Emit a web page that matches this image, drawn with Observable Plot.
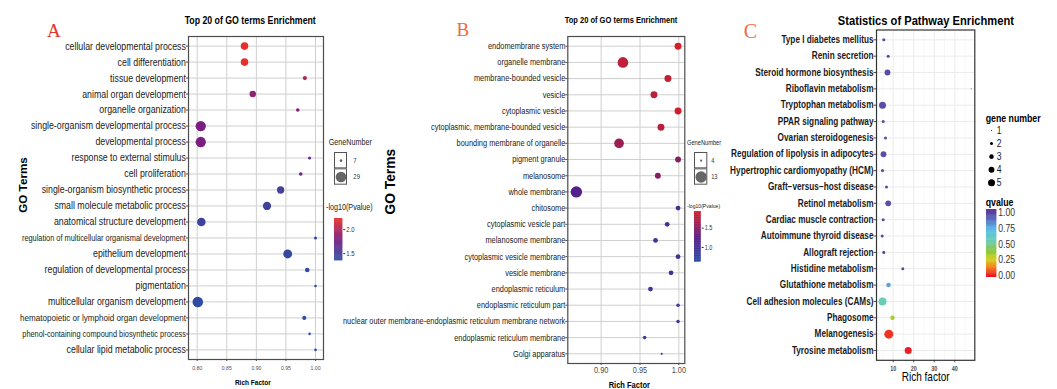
<!DOCTYPE html>
<html><head><meta charset="utf-8">
<script src="https://cdn.jsdelivr.net/npm/d3@7"></script>
<script src="https://cdn.jsdelivr.net/npm/@observablehq/plot@0.6"></script>
<style>
html,body{margin:0;padding:0;background:#fff;}
#root{position:relative;width:1057px;height:389px;overflow:hidden;background:#fff;}
#root svg{position:absolute;max-width:none;}
</style></head><body><div id="root"></div>
<script>
// ---------- Panel A data ----------
const termsA = ["cellular developmental process","cell differentiation","tissue development","animal organ development","organelle organization","single-organism developmental process","developmental process","response to external stimulus","cell proliferation","single-organism biosynthetic process","small molecule metabolic process","anatomical structure development","regulation of multicellular organismal development","epithelium development","regulation of developmental process","pigmentation","multicellular organism development","hematopoietic or lymphoid organ development","phenol-containing compound biosynthetic process","cellular lipid metabolic process"];
const richA = [0.880,0.880,0.982,0.894,0.970,0.806,0.806,0.990,0.975,0.941,0.918,0.807,1.000,0.953,0.986,1.000,0.801,0.981,0.990,1.000];
const geneA = [19,19,10,16,9,28,28,8,9,18,21,22,8,23,11,7,29,10,7,7];
const logpA = [2.23,2.22,1.98,1.86,1.84,1.79,1.79,1.70,1.68,1.47,1.46,1.45,1.41,1.41,1.40,1.39,1.38,1.37,1.36,1.35];
const ticksA = [0.80,0.85,0.90,0.95,1.00];
const sizeKeysA = [7,29];
const colorTicksA = [1.5,2.0];

// ---------- Panel B data ----------
const termsB = ["endomembrane system","organelle membrane","membrane-bounded vesicle","vesicle","cytoplasmic vesicle","cytoplasmic, membrane-bounded vesicle","bounding membrane of organelle","pigment granule","melanosome","whole membrane","chitosome","cytoplasmic vesicle part","melanosome membrane","cytoplasmic vesicle membrane","vesicle membrane","endoplasmic reticulum","endoplasmic reticulum part","nuclear outer membrane-endoplasmic reticulum membrane network","endoplasmic reticulum membrane","Golgi apparatus"];
const richB = [0.999,0.928,0.986,0.968,0.999,0.977,0.923,0.999,0.973,0.868,0.999,0.985,0.970,0.999,0.990,0.9635,0.999,0.999,0.956,0.978];
const geneB = [8,12,8,8,8,8,11,7,7,13,6,6,6,6,6,6,5,5,5,4];
const logpB = [1.93,1.82,1.84,1.80,1.88,1.80,1.62,1.50,1.50,1.20,1.05,1.02,1.00,1.00,0.98,0.95,0.90,0.90,0.80,0.68];
const ticksB = [0.90,0.95,1.00];
const sizeKeysB = [4,13];
const colorTicksB = [1.0,1.5];

// ---------- Panel C data ----------
const termsC = ["Type I diabetes mellitus","Renin secretion","Steroid hormone biosynthesis","Riboflavin metabolism","Tryptophan metabolism","PPAR signaling pathway","Ovarian steroidogenesis","Regulation of lipolysis in adipocytes","Hypertrophic cardiomyopathy (HCM)","Graft\u2212versus\u2212host disease","Retinol metabolism","Cardiac muscle contraction","Autoimmune thyroid disease","Allograft rejection","Histidine metabolism","Glutathione metabolism","Cell adhesion molecules (CAMs)","Phagosome","Melanogenesis","Tyrosine metabolism"];
const richC = [5.42,7.56,7.22,47.99,4.79,5.13,6.25,5.28,4.79,6.74,7.56,5.13,4.64,5.42,14.68,7.71,4.79,9.66,7.86,17.3];
const geneC = [2,2,4,1,5,2,2,4,2,2,4,2,2,2,2,3,6,3,7,5];
const qC = [0.98,0.98,0.97,1.0,0.96,0.98,0.98,0.96,0.98,0.98,0.96,0.98,0.98,0.98,0.98,0.78,0.55,0.33,0.03,0.0];
const ticksC = [10,20,30,40];
const minorTicksC = [5,15,25,35,45];
const sizeKeysC = [1,2,3,4,5];
const colorTicksC = [0,0.25,0.5,0.75,1.0];

// ---------- fonts ----------
function hasFont(f){const c=document.createElement("canvas").getContext("2d");const s="mmmmmmmmmmlliiWWWabcxyz";c.font="40px monospace";const a=c.measureText(s).width;c.font=`40px "${f}", monospace`;const b=c.measureText(s).width;return a!==b;}
const NARROW = hasFont("Liberation Sans Narrow");
const FN = NARROW ? '"Liberation Sans Narrow","Liberation Sans",Arial,sans-serif' : '"Liberation Sans",Arial,sans-serif';
const FW = '"Liberation Sans",Arial,sans-serif';
const K = NARROW ? 1/0.82 : 1;
const fs = v => +(v*K).toFixed(2);

const root = document.getElementById("root");
function place(svg, left, top){svg.style.left=left+"px";svg.style.top=top+"px";root.appendChild(svg);return svg;}

// ---------- scales ----------
const colorA = {type:"linear", domain:[1.35,1.79,2.23], range:["#2c4ea6","#7a1f80","#e8302a"], interpolate:"rgb"};
const colorB = {type:"linear", domain:[0.62,1.22,1.93], range:["#2c4ea6","#561d8a","#d21f28"], interpolate:"rgb"};
const colorC = {type:"linear", domain:[0,0.12,0.25,0.38,0.55,0.72,0.87,1.0], range:["#ee1d23","#f3791f","#d6d21f","#8dc63f","#6ccdb4","#5bbfea","#5875c4","#5b3d9c"], interpolate:"rgb"};
const rA = {type:"sqrt", domain:[7,29], range:[1.3,5.3]};
const rB = {type:"sqrt", domain:[4,13], range:[1.1,5.7]};
const rC = {type:"sqrt", domain:[1,5], range:[0.5,3.5]};

const styleA = {"regulation of multicellular organismal development":7.38,"phenol-containing compound biosynthetic process":7.38,"hematopoietic or lymphoid organ development":8.11};

const dataA = termsA.map((t,i)=>({term:t, rich:richA[i], gene:geneA[i], p:logpA[i]}));
const dataB = termsB.map((t,i)=>({term:t, rich:richB[i], gene:geneB[i], p:logpB[i]}));
const dataC = termsC.map((t,i)=>({term:t, rich:richC[i], gene:geneC[i], q:qC[i]}));

// ---------- Panel A ----------
place(Plot.plot({
  width:330, height:389, marginLeft:188, marginRight:7, marginTop:36, marginBottom:30,
  style:{background:"transparent", fontFamily:FN, fontSize:fs(5.1)+"px", color:"#4d4d4d", overflow:"visible"},
  x:{domain:[0.7853,1.0135], ticks:ticksA, tickFormat:".2f", tickSize:2, tickPadding:4, label:null},
  y:{type:"point", domain:termsA, padding:0.6, round:false, tickSize:2, tickFormat:()=>"", label:null},
  r:rA, color:colorA,
  marks:[
    Plot.ruleX(ticksA,{x:d=>d, stroke:"#cfcfcf", strokeWidth:1}),
    Plot.ruleY(termsA,{y:d=>d, stroke:"#cfcfcf", strokeWidth:1}),
    Plot.frame({stroke:"#4d4d4d", strokeWidth:1.2}),
    Plot.dot(dataA,{x:"rich", y:"term", r:"gene", fill:"p"}),
    Plot.text(dataA,{y:"term", text:"term", frameAnchor:"left", dx:-2.6, textAnchor:"end", fill:"#1a1a1a", fontFamily:FN, fontSize:d=>fs(styleA[d.term]||8.8)})
  ]
}), 0, 0);

// ---------- Panel B ----------
place(Plot.plot({
  width:360, height:389, marginLeft:237.3, marginRight:5.7, marginTop:36, marginBottom:26,
  style:{background:"transparent", fontFamily:FN, fontSize:fs(7.4)+"px", color:"#4d4d4d", overflow:"visible"},
  x:{domain:[0.857,1.0077], ticks:ticksB, tickFormat:".2f", tickSize:2, tickPadding:1, label:null},
  y:{type:"point", domain:termsB, padding:0.6, round:false, tickSize:2, tickFormat:()=>"", label:null},
  r:rB, color:colorB,
  marks:[
    Plot.ruleX(ticksB,{x:d=>d, stroke:"#cfcfcf", strokeWidth:1}),
    Plot.ruleY(termsB,{y:d=>d, stroke:"#cfcfcf", strokeWidth:1}),
    Plot.frame({stroke:"#4d4d4d", strokeWidth:1.2}),
    Plot.dot(dataB,{x:"rich", y:"term", r:"gene", fill:"p"}),
    Plot.text(dataB,{y:"term", text:"term", frameAnchor:"left", dx:-2.5, textAnchor:"end", fill:"#1a1a1a", fontFamily:FN, fontSize:fs(7.42)})
  ]
}), 330, 0);

// ---------- Panel C ----------
place(Plot.plot({
  width:280, height:389, marginLeft:176, marginRight:5.7, marginTop:29.5, marginBottom:29.2,
  style:{background:"transparent", fontFamily:FN, fontSize:fs(5.5)+"px", fontWeight:"bold", color:"#4d4d4d", overflow:"visible"},
  x:{domain:[1.867,49.74], ticks:ticksC, tickSize:2.5, tickPadding:3, label:null},
  y:{type:"point", domain:termsC, padding:0.6, round:false, tickSize:2.5, tickFormat:()=>"", label:null},
  r:rC, color:colorC,
  marks:[
    Plot.ruleX(minorTicksC,{x:d=>d, stroke:"#f2f2f2", strokeWidth:0.6}),
    Plot.ruleX(ticksC,{x:d=>d, stroke:"#ebebeb", strokeWidth:1}),
    Plot.ruleY(termsC,{y:d=>d, stroke:"#ebebeb", strokeWidth:1}),
    Plot.frame({stroke:"#333", strokeWidth:1.2}),
    Plot.dot(dataC,{x:"rich", y:"term", r:"gene", fill:"q"}),
    Plot.text(dataC,{y:"term", text:"term", frameAnchor:"left", dx:-3, textAnchor:"end", fill:"#1a1a1a", fontFamily:FN, fontWeight:"bold", fontSize:fs(8.23)})
  ]
}), 700, 0);

// ---------- legends ----------
function sizeBoxLegend(keys, rScale, left, top, w, h, labelDx, labelSize){
  return place(Plot.plot({
    width:w+30, height:h, marginLeft:0, marginRight:30, marginTop:0, marginBottom:0,
    style:{background:"transparent", fontFamily:FN, fontSize:"8px", color:"#333", overflow:"visible"},
    x:{type:"band", domain:["k"], range:[0,w], padding:0, round:false, axis:null},
    y:{type:"band", domain:keys, range:[0,h], padding:0, round:false, axis:null},
    r:rScale,
    marks:[
      Plot.cell(keys,{x:()=>"k", y:d=>d, fill:"white", stroke:"#555", strokeWidth:1, inset:0.5}),
      Plot.dot(keys,{x:()=>"k", y:d=>d, r:d=>d, fill:"#666"}),
      Plot.text(keys,{x:()=>"k", y:d=>d, text:d=>String(d), dx:labelDx, textAnchor:"start", fill:"#333", fontSize:fs(labelSize)})
    ]
  }), left, top);
}
function colorbar(colorScale, lo, hi, ticks, fmt, left, top, w, h, tickSize, fontSize, weight){
  const n = 80, step = (hi-lo)/n;
  const slices = d3.range(n).map(i=>({a:lo+step*i, b:lo+step*(i+1)}));
  return place(Plot.plot({
    width:w+30, height:h, marginLeft:0, marginRight:30, marginTop:0, marginBottom:0,
    style:{background:"transparent", fontFamily:FN, fontSize:fs(fontSize)+"px", fontWeight:weight||"normal", color:"#333", overflow:"visible"},
    x:{domain:[0,1], axis:null},
    y:{domain:[lo,hi], axis:"right", ticks, tickFormat:fmt, tickSize, tickPadding:1.5, label:null},
    color:colorScale,
    marks:[Plot.rect(slices,{x1:0, x2:1, y1:"a", y2:d=>Math.min(hi,d.b+step*0.6), fill:d=>(d.a+d.b)/2})]
  }), left, top);
}
sizeBoxLegend(sizeKeysA, rA, 333.7, 152.3, 13, 32.7, 12.3, 6);
colorbar(colorA, 1.35, 2.23, colorTicksA, ".1f", 334, 218.3, 8.3, 42.4, 2, 6);
sizeBoxLegend(sizeKeysB, rB, 694, 152.3, 13.3, 32.7, 10, 5.7);
colorbar(colorB, 0.62, 1.93, colorTicksB, ".1f", 694.3, 211, 6.7, 50.7, 2, 5.5);
// C size legend
place(Plot.plot({
  width:40, height:75, marginLeft:0, marginRight:30, marginTop:0, marginBottom:0,
  style:{background:"transparent", fontFamily:FN, fontSize:"8px", color:"#1a1a1a", overflow:"visible"},
  x:{type:"band", domain:["k"], range:[0,10], padding:0, round:false, axis:null},
  y:{type:"point", domain:sizeKeysC, range:[10,62.3], padding:0, round:false, axis:null},
  r:rC,
  marks:[
    Plot.dot(sizeKeysC,{x:()=>"k", y:d=>d, r:d=>d, fill:"#000"}),
    Plot.text(sizeKeysC,{x:()=>"k", y:d=>d, text:d=>String(d), dx:5.3, textAnchor:"start", fill:"#1a1a1a", fontSize:fs(8.6)})
  ]
}), 985.7, 120);
colorbar(colorC, -0.025, 1.047, colorTicksC, ".2f", 985.7, 209.3, 10.3, 68, 0, 8.6);

// ---------- overlay text ----------
const ov = d3.select(root).append("svg").attr("width",1057).attr("height",389).style("left","0px").style("top","0px");
function txt(s,x,y,o={}){
  const t = ov.append("text").attr("x",x).attr("y",y).attr("dominant-baseline","central")
    .attr("text-anchor",o.anchor||"middle").attr("font-family",o.family||FN)
    .attr("font-size",o.size).attr("font-weight",o.weight||"normal").attr("fill",o.fill||"#000").text(s);
  if(o.rotate) t.attr("transform",`rotate(${o.rotate},${x},${y})`);
  if(o.keep) t.attr("data-keep","1");
}
const SERIF = '"Liberation Serif","DejaVu Serif",serif';
// A
txt("A",53.8,30,{family:SERIF,size:19,fill:"#e5342a",keep:1});
txt("Top 20 of GO terms Enrichment",250.2,19.7,{size:fs(8.75),weight:"bold"});
txt("GO Terms",22,185,{family:FW,size:11.7,weight:"bold",rotate:-90,keep:1});
txt("Rich Factor",252.8,382.3,{size:fs(6.5),weight:"bold"});
txt("GeneNumber",328.7,141.7,{anchor:"start",size:fs(7.2),fill:"#222"});
txt("-log10(Pvalue)",326,206.7,{anchor:"start",size:fs(7.2),fill:"#222"});
// B
txt("B",462.8,29,{family:SERIF,size:19,fill:"#ef6b45",keep:1});
txt("Top 20 of GO terms Enrichment",621,19.7,{size:fs(7.53),weight:"bold"});
txt("GO Terms",391,181.7,{family:FW,size:13.8,weight:"bold",rotate:-90,keep:1});
txt("Rich Factor",629.3,385,{size:fs(7.5),weight:"bold"});
txt("GeneNumber",687,142.3,{anchor:"start",size:fs(5.7),fill:"#222"});
txt("-log10(Pvalue)",687,205,{anchor:"start",size:fs(5.1),fill:"#222"});
// C
txt("C",750.3,30.7,{family:SERIF,size:20,fill:"#ef6b45",keep:1});
txt("Statistics of Pathway Enrichment",925.9,20,{size:fs(11.17),weight:"bold"});
txt("Rich factor",925.7,377.3,{size:fs(10)});
txt("gene number",985.7,117.7,{anchor:"start",size:fs(8.76),weight:"bold"});
txt("qvalue",985.7,201.7,{anchor:"start",size:fs(8.76),weight:"bold"});

// ---------- condensed look: keep each text's width, make glyphs taller (narrow face) ----------
if (!NARROW) {
  root.querySelectorAll("svg text").forEach(el => {
    if (el.getAttribute("data-keep")) return;
    if (el.querySelector("tspan")) return;
    const w = el.getComputedTextLength();
    if (!w) return;
    const s = parseFloat(getComputedStyle(el).fontSize);
    el.style.fontSize = (s/0.82).toFixed(2) + "px";
    el.setAttribute("textLength", w.toFixed(2));
    el.setAttribute("lengthAdjust", "spacingAndGlyphs");
  });
}
</script></body></html>
